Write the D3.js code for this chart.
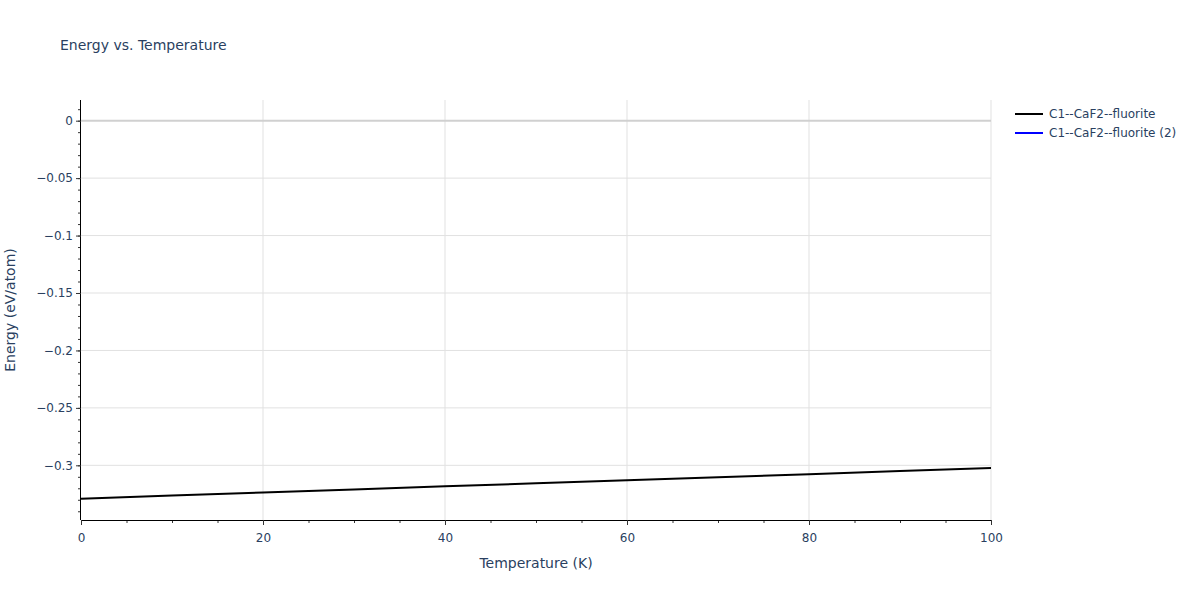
<!DOCTYPE html>
<html><head><meta charset="utf-8">
<script src="https://cdn.jsdelivr.net/npm/d3@7"></script>
<style>body{margin:0;background:#fff}svg{display:block}text{font-family:"DejaVu Sans",Verdana,sans-serif;fill:#2a3f5f}</style>
</head><body><svg id="c" width="1200" height="600"></svg>
<script>
const temperature = [0, 10, 20, 30, 40, 50, 60, 70, 80, 90, 100];
const energySeries1 = [-0.3290, -0.3263, -0.3237, -0.3210, -0.3183, -0.3157, -0.3130, -0.3103, -0.3077, -0.3050, -0.3024];
const energySeries2 = [];
const seriesNames = ["C1--CaF2--fluorite", "C1--CaF2--fluorite (2)"];
const seriesColors = ["#000000", "#0000ff"];
const xTicks = [0, 20, 40, 60, 80, 100];
const yTicks = [0, -0.05, -0.1, -0.15, -0.2, -0.25, -0.3];

const svg = d3.select("#c");
const L = 81, R = 991, T = 100, B = 520;
const x = d3.scaleLinear().domain([0, 100]).range([L, R]);
const y = d3.scaleLinear().domain([-0.3476, 0.0180]).range([B, T]);

// grid
const g = svg.append("g");
g.selectAll(".vg").data(xTicks.filter(d => d !== 0)).join("line")
  .attr("x1", d => x(d)).attr("x2", d => x(d)).attr("y1", T).attr("y2", B)
  .attr("stroke", "#e1e1e1").attr("stroke-width", 1);
g.selectAll(".hg").data(yTicks.filter(d => d !== 0)).join("line")
  .attr("x1", L).attr("x2", R).attr("y1", d => y(d)).attr("y2", d => y(d))
  .attr("stroke", "#e1e1e1").attr("stroke-width", 1);
g.append("line").attr("x1", L).attr("x2", R).attr("y1", y(0)).attr("y2", y(0))
  .attr("stroke", "#d0d0d0").attr("stroke-width", 2);

// lines
const line = d3.line().x((d, i) => x(temperature[i])).y(d => y(d));
[energySeries2, energySeries1].forEach((s, k) => {
  if (!s.length) return;
  svg.append("path").datum(s).attr("d", line).attr("fill", "none")
    .attr("stroke", k === 1 ? seriesColors[0] : seriesColors[1]).attr("stroke-width", 2);
});

// axes
const xMinor = d3.range(0, 101, 5);
const xAxis = svg.append("g").attr("transform", `translate(0,${B})`);
xAxis.call(d3.axisBottom(x).tickValues(xMinor).tickSize(3).tickFormat(""));
xAxis.call(g2 => g2.select(".domain").remove());
const xMaj = svg.append("g").attr("transform", `translate(0,${B})`)
  .call(d3.axisBottom(x).tickValues(xTicks).tickSize(5).tickPadding(8).tickFormat(d3.format("d")));
xMaj.selectAll("text").attr("font-size", 12).style("font-family", "DejaVu Sans").style("fill", "#2a3f5f");
xMaj.select(".domain").attr("stroke", "#000").attr("d", `M${L},0.5H${R}`);

const yMinor = d3.range(-34, 2).map(v => v / 100);
const yAxis = svg.append("g").attr("transform", `translate(${L},0)`);
yAxis.call(d3.axisLeft(y).tickValues(yMinor).tickSize(3).tickFormat(""));
yAxis.call(g2 => g2.select(".domain").remove());
const fmt = d => d === 0 ? "0" : "\u2212" + d3.format("")(Math.abs(+d.toFixed(2)));
const yMaj = svg.append("g").attr("transform", `translate(${L},0)`)
  .call(d3.axisLeft(y).tickValues(yTicks).tickSize(5).tickPadding(3).tickFormat(fmt));
yMaj.selectAll("text").attr("font-size", 12).style("font-family", "DejaVu Sans").style("fill", "#2a3f5f");
yMaj.select(".domain").attr("stroke", "#000").attr("d", `M-0.5,${T}V${B}`);
svg.selectAll(".tick line").attr("stroke", "#333");

// titles
svg.append("text").attr("x", 60).attr("y", 50).attr("font-size", 14).text("Energy vs. Temperature");
svg.append("text").attr("x", (L + R) / 2).attr("y", 568).attr("text-anchor", "middle").attr("font-size", 14).text("Temperature (K)");
svg.append("text").attr("transform", `translate(15,${(T + B) / 2}) rotate(-90)`).attr("text-anchor", "middle").attr("font-size", 14).text("Energy (eV/atom)");

// legend
seriesNames.forEach((n, i) => {
  const yy = 114 + i * 19;
  svg.append("line").attr("x1", 1015).attr("x2", 1043).attr("y1", yy).attr("y2", yy)
    .attr("stroke", seriesColors[i]).attr("stroke-width", 2);
  svg.append("text").attr("x", 1049).attr("y", yy + 4).attr("font-size", 12).text(n);
});
</script></body></html>
